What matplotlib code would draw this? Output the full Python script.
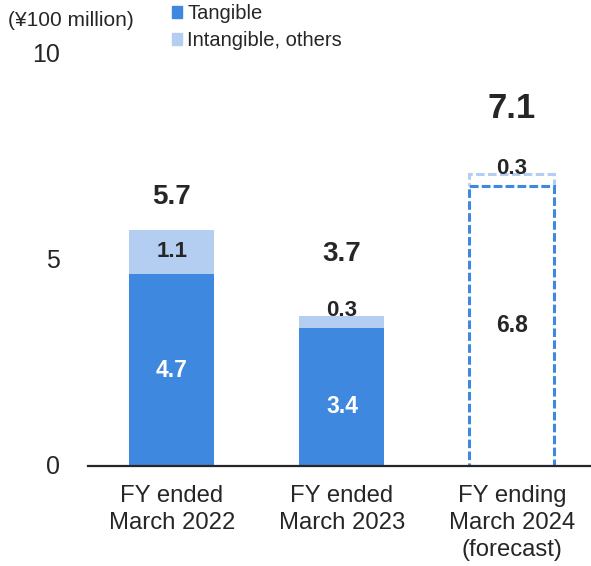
import matplotlib
matplotlib.use("Agg")
import matplotlib.pyplot as plt
import matplotlib.transforms as mtransforms
from matplotlib.patches import Patch

plt.rcParams['font.family'] = ['Liberation Sans', 'DejaVu Sans']

# Données (en 100 millions de yens)
categories = ["FY ended\nMarch 2022", "FY ended\nMarch 2023", "FY ending\nMarch 2024\n(forecast)"]
tangible = [4.66, 3.36, 6.80]
intangible = [1.07, 0.28, 0.29]
totals = [5.7, 3.7, 7.1]
forecast = [False, False, True]

# Couleurs
bleu = '#3F88E0'
bleu_clair = '#B4CEF2'
texte = '#262626'

fig = plt.figure(figsize=(5.91, 5.66), dpi=100)
ax = fig.add_axes([88/591, 1 - 466/566, 503/591, 412/566])

x = list(range(len(categories)))
largeur = 0.5

for i in x:
    if forecast[i]:
        # barre en pointillés pour la prévision
        ax.bar(i, intangible[i], largeur, bottom=tangible[i], facecolor='none',
               edgecolor=bleu_clair, linewidth=2.2, linestyle=(0, (2.8, 1.1)), zorder=2)
        ax.bar(i, tangible[i], largeur, facecolor='none',
               edgecolor=bleu, linewidth=2.2, linestyle=(0, (2.8, 1.1)), zorder=3)
    else:
        ax.bar(i, tangible[i], largeur, color=bleu, zorder=2)
        ax.bar(i, intangible[i], largeur, bottom=tangible[i], color=bleu_clair, zorder=2)

# Étiquettes des segments
decal_interne = [0, -7, 0]
for i in x:
    couleur = texte if forecast[i] else 'white'
    ax.annotate(f"{tangible[i]:.1f}", (i, tangible[i] / 2), xytext=(0, decal_interne[i]),
                textcoords='offset points', ha='center', va='center',
                fontsize=16.5, fontweight='bold', color=couleur, zorder=5)
    haut = tangible[i] + intangible[i]
    if intangible[i] > 0.5:
        ax.annotate(f"{intangible[i]:.1f}", (i, tangible[i] + intangible[i] / 2),
                    ha='center', va='center', fontsize=16, fontweight='bold',
                    color=texte, zorder=5)
    else:
        ax.annotate(f"{intangible[i]:.1f}", (i, haut), xytext=(0, 4),
                    textcoords='offset points', ha='center', va='center',
                    fontsize=16, fontweight='bold', color=texte, zorder=5)

# Totaux au-dessus des barres
decal_total = [24, 45, 47]
taille_total = [20, 20, 25]
for i in x:
    haut = tangible[i] + intangible[i]
    ax.annotate(f"{totals[i]:.1f}", (i, haut), xytext=(0, decal_total[i]),
                textcoords='offset points', ha='center', va='center',
                fontsize=taille_total[i], fontweight='bold', color=texte)

ax.set_xlim(-0.494, 2.465)
ax.set_ylim(0, 10)
ax.set_yticks([0, 5, 10])
ax.set_yticklabels(["0", "5", "10"])
ax.set_xticks(x)
ax.set_xticklabels(categories, linespacing=1.28)

for cote in ['top', 'right', 'left']:
    ax.spines[cote].set_visible(False)
ax.spines['bottom'].set_color(texte)
ax.spines['bottom'].set_linewidth(1.6)
ax.spines['bottom'].set_zorder(4)

ax.tick_params(axis='y', length=0, pad=20, labelsize=18, labelcolor=texte)
ax.tick_params(axis='x', length=0, pad=14, labelsize=17.2, labelcolor=texte)

# remonter un peu les étiquettes de l'axe y
decalage = mtransforms.ScaledTranslation(0, 2/100, fig.dpi_scale_trans)
for lab in ax.get_yticklabels():
    lab.set_transform(lab.get_transform() + decalage)

# Unité et légende
fig.text(8/591, 1 - 20/566, "(¥100 million)", ha='left', va='center', fontsize=15, color=texte)
poignees = [Patch(color=bleu), Patch(color=bleu_clair)]
fig.legend(poignees, ["Tangible", "Intangible, others"], loc='upper left',
           bbox_to_anchor=(172/591, 1 - 4/566), frameon=False, fontsize=14.5,
           handlelength=0.5, handleheight=0.5, handletextpad=0.25,
           labelspacing=0.4, borderpad=0, borderaxespad=0, labelcolor=texte)

fig.savefig("out.png", dpi=100)
